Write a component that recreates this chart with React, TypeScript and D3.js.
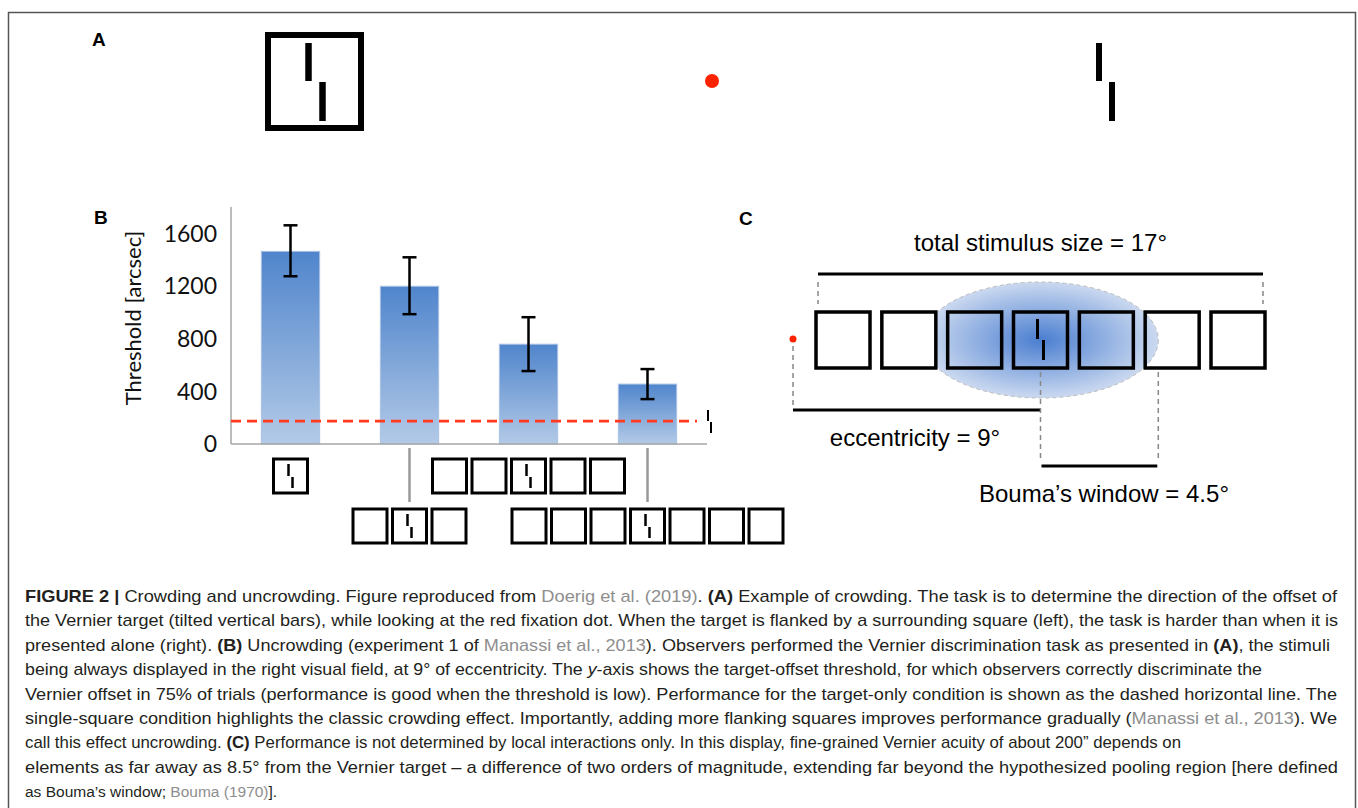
import * as d3 from 'd3';

// Panel B: uncrowding experiment
const conditions = ['1 square', '3 squares', '5 squares', '7 squares'];
const squareCounts = [1, 3, 5, 7];
const iconRows = [0, 1, 0, 1];
const thresholds = [1463, 1198, 758, 455];
const errHigh = [1661, 1418, 963, 569];
const errLow = [1274, 986, 554, 341];
const targetOnly = 174;
const yTicks = [0, 400, 800, 1200, 1600];
const yMax = 1800;

// Panel C: degrees of visual angle
const totalSize = 17;
const eccentricity = 9;
const boumaWindow = 4.5;
const cSquareCount = 7;

type Seg = [string, '' | 'b' | 'r' | 'i'];
const captionLines: Seg[][] = [
  [['FIGURE 2 |', 'b'], [' Crowding and uncrowding. Figure reproduced from ', ''], ['Doerig et al. (2019)', 'r'], ['. ', ''], ['(A)', 'b'], [' Example of crowding. The task is to determine the direction of the offset of', '']],
  [['the Vernier target (tilted vertical bars), while looking at the red fixation dot. When the target is flanked by a surrounding square (left), the task is harder than when it is', '']],
  [['presented alone (right). ', ''], ['(B)', 'b'], [' Uncrowding (experiment 1 of ', ''], ['Manassi et al., 2013', 'r'], ['). Observers performed the Vernier discrimination task as presented in ', ''], ['(A)', 'b'], [', the stimuli', '']],
  [['being always displayed in the right visual field, at 9° of eccentricity. The ', ''], ['y', 'i'], ['-axis shows the target-offset threshold, for which observers correctly discriminate the', '']],
  [['Vernier offset in 75% of trials (performance is good when the threshold is low). Performance for the target-only condition is shown as the dashed horizontal line. The', '']],
  [['single-square condition highlights the classic crowding effect. Importantly, adding more flanking squares improves performance gradually (', ''], ['Manassi et al., 2013', 'r'], ['). We', '']],
  [['call this effect uncrowding. ', ''], ['(C)', 'b'], [' Performance is not determined by local interactions only. In this display, fine-grained Vernier acuity of about 200\u201D depends on', '']],
  [['elements as far away as 8.5° from the Vernier target \u2013 a difference of two orders of magnitude, extending far beyond the hypothesized pooling region [here defined', '']],
  [['as Bouma\u2019s window; ', ''], ['Bouma (1970)', 'r'], ['].', '']],
];
// measured line widths; the short last line keeps its natural width
const captionWidths: (number | undefined)[] = [1312, 1313, 1305, 1237, 1312, 1312, 1156, 1313, undefined];

const labelFont = "'Liberation Sans', Arial, sans-serif";
const chartFont = "Lato, 'Open Sans', sans-serif";

function Vernier({ cx, top, mid, bottom, dx, w }: { cx: number; top: number; mid: number; bottom: number; dx: number; w: number }) {
  return (
    <g stroke="#000" strokeWidth={w}>
      <line x1={cx - dx} x2={cx - dx} y1={top} y2={mid} />
      <line x1={cx + dx} x2={cx + dx} y1={mid + 1} y2={bottom} />
    </g>
  );
}

function SquareRow({ cx, top, n, size, pitch }: { cx: number; top: number; n: number; size: number; pitch: number }) {
  const mid = Math.floor(n / 2);
  return (
    <g>
      {d3.range(n).map(i => {
        const c = cx + (i - mid) * pitch;
        return (
          <g key={i}>
            <rect x={c - size / 2} y={top} width={size} height={size} fill="none" stroke="#000" strokeWidth={3} />
            {i === mid && <Vernier cx={c} top={top + 5} mid={top + 17} bottom={top + 29} dx={2} w={2.5} />}
          </g>
        );
      })}
    </g>
  );
}

export default function App() {
  // ---- panel B scales
  const x = d3.scaleBand<string>().domain(conditions).range([231, 707]).paddingInner(0.51).paddingOuter(0.255);
  const y = d3.scaleLinear().domain([0, yMax]).range([444, 207]);
  const bw = x.bandwidth();

  // ---- panel C scale (degrees -> px)
  const half = totalSize / 2;
  const deg = d3.scaleLinear().domain([0, eccentricity - half, eccentricity + half]).range([793, 818, 1263]);
  const sqW = 54;
  const sqH = 56;
  const sqTop = 312;
  const pitch = (deg(eccentricity + half) - deg(eccentricity - half) + 4 - sqW) / (cSquareCount - 1);
  const tx = deg(eccentricity);
  const bx = deg(eccentricity + boumaWindow);

  return (
    <svg width={1358} height={808} style={{ position: 'absolute', left: 0, top: 0, background: '#fff' }}>
      <defs>
        <linearGradient id="barGrad" x1="0" y1="0" x2="0" y2="1">
          <stop offset="0" stopColor="#5085cc" />
          <stop offset="1" stopColor="#b3cae7" />
        </linearGradient>
        <radialGradient id="bouma" cx="0.5" cy="0.5" r="0.5">
          <stop offset="0" stopColor="#4a7ed0" />
          <stop offset="1" stopColor="#cbd9f0" />
        </radialGradient>
      </defs>

      {/* frame */}
      <path d="M8.5,812 V12.5 H1355.5 V812" fill="none" stroke="#555" strokeWidth={1.5} />

      {/* ---------- Panel A ---------- */}
      <text x={92} y={46} fontFamily={labelFont} fontWeight="bold" fontSize={19}>A</text>
      <rect x={268} y={35} width={93} height={93} fill="none" stroke="#000" strokeWidth={6} />
      <Vernier cx={315.5} top={43} mid={81} bottom={121} dx={7} w={6.5} />
      <circle cx={712} cy={81} r={7} fill="#ff2200" />
      <Vernier cx={1105.5} top={43} mid={81} bottom={121} dx={6.5} w={6} />

      {/* ---------- Panel B ---------- */}
      <text x={94} y={224} fontFamily={labelFont} fontWeight="bold" fontSize={19}>B</text>
      {conditions.map((c, i) => (
        <rect key={c} x={x(c)} y={y(thresholds[i])} width={bw} height={y(0) - y(thresholds[i])}
          fill="url(#barGrad)" stroke="#a9c2e4" strokeWidth={1} />
      ))}
      <line x1={231} x2={231} y1={y(yMax)} y2={y(0)} stroke="#a6a6a6" strokeWidth={1.5} />
      <line x1={231} x2={707} y1={y(0)} y2={y(0)} stroke="#a6a6a6" strokeWidth={1.5} />
      {yTicks.map(t => (
        <text key={t} x={217} y={y(t)} dy="0.36em" textAnchor="end" fontFamily={chartFont} fontSize={23} fill="#111">{t}</text>
      ))}
      <text transform={`translate(141,318) rotate(-90)`} textAnchor="middle" fontFamily={chartFont} fontSize={22} fill="#111">Threshold [arcsec]</text>
      {conditions.map((c, i) => {
        const cx = (x(c) ?? 0) + bw / 2;
        return (
          <g key={c} stroke="#000" strokeWidth={2.5}>
            <line x1={cx} x2={cx} y1={y(errHigh[i])} y2={y(errLow[i])} />
            <line x1={cx - 7} x2={cx + 7} y1={y(errHigh[i])} y2={y(errHigh[i])} />
            <line x1={cx - 7} x2={cx + 7} y1={y(errLow[i])} y2={y(errLow[i])} />
          </g>
        );
      })}
      <line x1={231} x2={697} y1={y(targetOnly)} y2={y(targetOnly)} stroke="#ff3a1e" strokeWidth={2.6} strokeDasharray="10,6" />
      <Vernier cx={709.5} top={410} mid={421} bottom={433} dx={1.5} w={2} />
      {conditions.map((c, i) => {
        const cx = (x(c) ?? 0) + bw / 2;
        const top = iconRows[i] === 0 ? 459 : 509;
        return (
          <g key={c}>
            {iconRows[i] === 1 && <line x1={cx} x2={cx} y1={448} y2={502} stroke="#999" strokeWidth={2.5} />}
            <SquareRow cx={cx} top={top} n={squareCounts[i]} size={34} pitch={39.5} />
          </g>
        );
      })}

      {/* ---------- Panel C ---------- */}
      <text x={739} y={225} fontFamily={labelFont} fontWeight="bold" fontSize={19}>C</text>
      <text x={(deg(eccentricity - half) + deg(eccentricity + half)) / 2} y={251} textAnchor="middle" fontFamily={labelFont} fontSize={24}>total stimulus size = {totalSize}°</text>
      <line x1={deg(eccentricity - half)} x2={deg(eccentricity + half)} y1={274} y2={274} stroke="#000" strokeWidth={3} />
      {[deg(eccentricity - half), deg(eccentricity + half)].map(v => (
        <line key={v} x1={v} x2={v} y1={282} y2={304} stroke="#888" strokeWidth={1.5} strokeDasharray="5,4" />
      ))}
      <ellipse cx={tx} cy={sqTop + sqH / 2} rx={bx - tx} ry={58} fill="url(#bouma)" stroke="#bbb" strokeWidth={1} strokeDasharray="4,3" />
      {d3.range(cSquareCount).map(i => {
        const c = tx + (i - 3) * pitch;
        return (
          <rect key={i} x={c - sqW / 2} y={sqTop} width={sqW} height={sqH} fill={i === 1 ? '#fff' : 'none'} stroke="#000" strokeWidth={3.5} />
        );
      })}
      <Vernier cx={tx} top={319} mid={339} bottom={360} dx={3} w={3} />
      <circle cx={deg(0)} cy={339} r={3.5} fill="#ff2200" />
      <line x1={deg(0)} x2={deg(0)} y1={346} y2={406} stroke="#888" strokeWidth={1.5} strokeDasharray="5,4" />
      <line x1={deg(0)} x2={tx} y1={410} y2={410} stroke="#000" strokeWidth={3} />
      {[tx, bx].map(v => (
        <line key={v} x1={v} x2={v} y1={372} y2={462} stroke="#888" strokeWidth={1.5} strokeDasharray="5,4" />
      ))}
      <line x1={tx + 1} x2={bx - 1} y1={466} y2={466} stroke="#000" strokeWidth={3} />
      <text x={915} y={446} textAnchor="middle" fontFamily={labelFont} fontSize={24}>eccentricity = {eccentricity}°</text>
      <text x={1104} y={502} textAnchor="middle" fontFamily={labelFont} fontSize={24}>Bouma’s window = {boumaWindow}°</text>

      {/* ---------- Caption ---------- */}
      {captionLines.map((line, li) => (
        <text key={li} x={25} y={602 + li * 24.4} fontFamily="'Liberation Sans Narrow', 'Liberation Sans', Arial, sans-serif"
          fontSize={captionWidths[li] ? 17 : 15.5} fill="#231f20"
          textLength={captionWidths[li]} lengthAdjust={captionWidths[li] ? 'spacingAndGlyphs' : undefined}>
          {line.map(([t, s], si) => (
            <tspan key={si} fontWeight={s === 'b' ? 'bold' : undefined} fontStyle={s === 'i' ? 'italic' : undefined}
              fill={s === 'r' ? '#8e8e8e' : undefined}>{t}</tspan>
          ))}
        </text>
      ))}
    </svg>
  );
}
